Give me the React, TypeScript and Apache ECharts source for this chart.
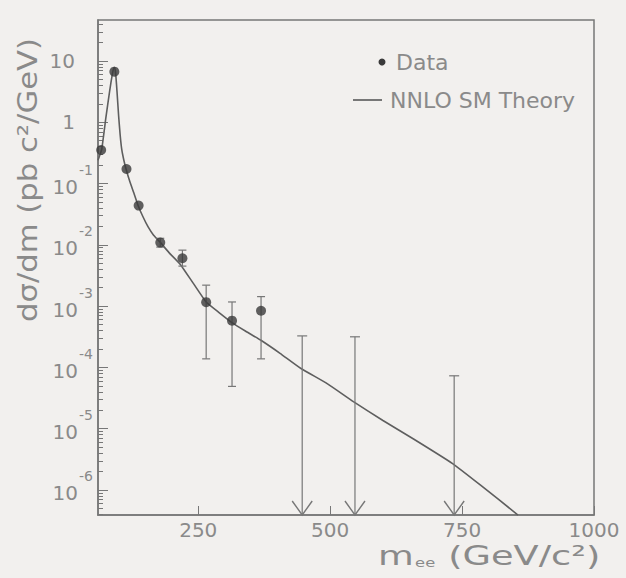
import React, { useEffect, useRef } from "react";
import * as echarts from "echarts";

// ---- data ----
const dataMass = [66, 91, 114, 137, 178, 220, 265, 314, 369];
const dataValues = [0.353, 6.7, 0.173, 0.0437, 0.0109, 0.00604, 0.00116, 0.00058, 0.00084];

const errMass = [178, 220, 265, 314, 369];
const errLow = [0.0092, 0.0045, 0.000138, 0.000049, 0.000138];
const errHigh = [0.0128, 0.0082, 0.0022, 0.00117, 0.00143];

const limitMass = [447, 547, 735];
const limitValues = [0.000327, 0.000316, 0.000073];

const theoryMass = [60, 67, 75, 82, 87, 90, 92, 94, 96, 99, 102, 105, 109, 113, 120, 128, 136, 145, 155, 165, 178, 195, 216, 240, 265, 290, 314, 340, 368, 405, 444, 495, 544, 600, 658, 732, 785, 856];
const theoryValues = [0.24, 0.36, 1.2, 3.2, 6.0, 7.8, 7.8, 5.5, 3.2, 1.3, 0.62, 0.36, 0.24, 0.175, 0.11, 0.07, 0.044, 0.029, 0.0196, 0.0145, 0.011, 0.0074, 0.0048, 0.0024, 0.00117, 0.00078, 0.00054, 0.00039, 0.00028, 0.00017, 0.000097, 0.000054, 0.0000277, 0.0000136, 0.0000068, 0.0000027, 0.0000012, 0.00000039];

const xTickValues = [250, 500, 750, 1000];
const yTickExponents = [-6, -5, -4, -3, -2, -1, 0, 1];

const X_MIN = 60;
const X_MAX = 1000;
const Y_MIN = -6.408;
const Y_MAX = 1.669;

const FONT = '"DejaVu Sans", "Liberation Sans", sans-serif';
const TEXT = "#8a8a8a";
const LINE = "#777777";
const BG = "#f2f0ee";

const lg = (v: number) => Math.log10(v);

export default function App() {
  const ref = useRef<HTMLDivElement>(null);

  useEffect(() => {
    document.body.style.margin = "0";
    if (!ref.current) return;
    const chart = echarts.init(ref.current, undefined, { renderer: "svg" });

    const minorTicks: number[] = [];
    for (let e = -7; e <= 1; e++) {
      for (let k = 2; k <= 9; k++) {
        const v = Math.log10(k) + e;
        if (v > Y_MIN && v < Y_MAX) minorTicks.push(v);
      }
    }

    const option: any = {
      animation: false,
      backgroundColor: BG,
      grid: {
        left: 98,
        top: 20,
        width: 496,
        height: 495,
        show: true,
        borderColor: LINE,
        borderWidth: 1.5,
        backgroundColor: "transparent",
      },
      xAxis: {
        type: "value",
        min: X_MIN,
        max: X_MAX,
        axisLine: { show: true, onZero: false, lineStyle: { color: LINE, width: 1.5 } },
        axisTick: { show: true, inside: true, length: 9, customValues: xTickValues, lineStyle: { color: LINE } },
        axisLabel: {
          customValues: xTickValues,
          formatter: (v: number) => String(v),
          color: TEXT,
          fontFamily: FONT,
          fontSize: 20,
          margin: 5,
        },
        splitLine: { show: false },
      },
      yAxis: [
        {
          type: "value",
          min: Y_MIN,
          max: Y_MAX,
          axisLine: { show: true, onZero: false, lineStyle: { color: LINE, width: 1.5 } },
          axisTick: { show: true, inside: true, length: 10, customValues: yTickExponents, lineStyle: { color: LINE } },
          axisLabel: {
            customValues: yTickExponents,
            margin: 5,
            formatter: (v: number) => {
              if (v === 1) return "{p|10}{sp| }";
              if (v === 0) return "{p|1}{sp| }";
              return "{b|10}{s|" + v + "}";
            },
            rich: {
              p: { fontSize: 20, fontFamily: FONT, color: TEXT },
              sp: { width: 18, fontSize: 14 },
              b: { fontSize: 20, fontFamily: FONT, color: TEXT, padding: [14, 0, 7, 0] },
              s: { fontSize: 14, fontFamily: FONT, color: TEXT, padding: [0, 0, 27, 1] },
            },
          },
          splitLine: { show: false },
        },
        {
          type: "value",
          min: Y_MIN,
          max: Y_MAX,
          position: "left",
          axisLine: { show: false, onZero: false },
          axisTick: { show: true, inside: true, length: 5, customValues: minorTicks, lineStyle: { color: LINE } },
          axisLabel: { show: false },
          splitLine: { show: false },
        },
      ],
      graphic: [
        {
          type: "text",
          x: 28,
          y: 180,
          rotation: Math.PI / 2,
          scaleX: 1.18,
          style: {
            text: "dσ/dm (pb c²/GeV)",
            font: '26px "DejaVu Sans"',
            fill: TEXT,
            textAlign: "center",
            textVerticalAlign: "middle",
          },
        },
        {
          type: "text",
          x: 378,
          y: 556,
          scaleX: 1.36,
          style: {
            text: "{m|m}{sub|ee}{t| (GeV/c²)}",
            textVerticalAlign: "middle",
            fill: TEXT,
            rich: {
              m: { fontSize: 27, fontFamily: FONT, fill: TEXT, color: TEXT },
              sub: { fontSize: 12, fontFamily: FONT, fill: TEXT, color: TEXT, padding: [14, 1, 0, 1] },
              t: { fontSize: 27, fontFamily: FONT, fill: TEXT, color: TEXT },
            },
          },
        },
        {
          type: "circle",
          shape: { cx: 382, cy: 62, r: 3.5 },
          style: { fill: "#3a3a3a" },
        },
        {
          type: "text",
          x: 396,
          y: 62,
          style: { text: "Data", font: '22px "DejaVu Sans"', fill: TEXT, textVerticalAlign: "middle" },
        },
        {
          type: "line",
          shape: { x1: 353, y1: 100, x2: 382, y2: 100 },
          style: { stroke: LINE, lineWidth: 2 },
        },
        {
          type: "text",
          x: 390,
          y: 100,
          style: { text: "NNLO SM Theory", font: '22px "DejaVu Sans"', fill: TEXT, textVerticalAlign: "middle" },
        },
      ],
      series: [
        {
          name: "NNLO SM Theory",
          type: "line",
          yAxisIndex: 0,
          data: theoryMass.map((m, i) => [m, lg(theoryValues[i])]),
          showSymbol: false,
          symbol: "none",
          smooth: 0.15,
          lineStyle: { color: "#5e5e5e", width: 1.6 },
          clip: true,
          z: 3,
        },
        {
          name: "errors",
          type: "custom",
          yAxisIndex: 0,
          data: errMass.map((m, i) => [m, lg(errLow[i]), lg(errHigh[i])]),
          renderItem: (params: any, api: any) => {
            const x = api.value(0);
            const p1 = api.coord([x, api.value(1)]);
            const p2 = api.coord([x, api.value(2)]);
            const st = { stroke: LINE, lineWidth: 1.2 };
            const c = 4;
            return {
              type: "group",
              children: [
                { type: "line", shape: { x1: p1[0], y1: p1[1], x2: p2[0], y2: p2[1] }, style: st },
                { type: "line", shape: { x1: p1[0] - c, y1: p1[1], x2: p1[0] + c, y2: p1[1] }, style: st },
                { type: "line", shape: { x1: p2[0] - c, y1: p2[1], x2: p2[0] + c, y2: p2[1] }, style: st },
              ],
            };
          },
          z: 4,
        },
        {
          name: "limits",
          type: "custom",
          yAxisIndex: 0,
          data: limitMass.map((m, i) => [m, lg(limitValues[i])]),
          renderItem: (params: any, api: any) => {
            const p = api.coord([api.value(0), api.value(1)]);
            const bottom = params.coordSys.y + params.coordSys.height;
            const st = { stroke: LINE, lineWidth: 1.2 };
            const c = 5;
            return {
              type: "group",
              children: [
                { type: "line", shape: { x1: p[0], y1: p[1], x2: p[0], y2: bottom }, style: st },
                { type: "line", shape: { x1: p[0] - c, y1: p[1], x2: p[0] + c, y2: p[1] }, style: st },
                {
                  type: "polyline",
                  shape: { points: [[p[0] - 10, bottom - 14], [p[0], bottom], [p[0] + 10, bottom - 14]] },
                  style: { stroke: LINE, lineWidth: 1.4, fill: "none" },
                },
              ],
            };
          },
          z: 4,
        },
        {
          name: "Data",
          type: "scatter",
          yAxisIndex: 0,
          data: dataMass.map((m, i) => [m, lg(dataValues[i])]),
          symbol: "circle",
          symbolSize: 10,
          itemStyle: { color: "#3a3a3a" },
          z: 5,
        },
      ],
    };

    chart.setOption(option);
    return () => chart.dispose();
  }, []);

  return <div ref={ref} style={{ width: 626, height: 578, background: BG }} />;
}
